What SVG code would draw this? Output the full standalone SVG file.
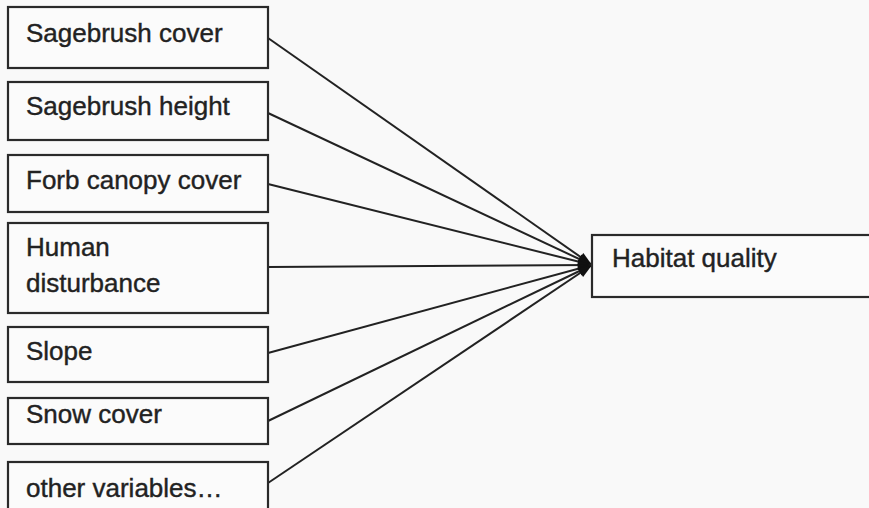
<svg xmlns="http://www.w3.org/2000/svg" width="869" height="508" viewBox="0 0 869 508">
<style>
.box{fill:#fbfbfb;stroke:#2a2a2a;stroke-width:2.2}
.lbl{font-family:"Liberation Sans",Arial,sans-serif;font-size:26px;fill:#222;stroke:#222;stroke-width:0.4}
.con{stroke:#222;stroke-width:2;fill:none;marker-end:url(#ah)}
</style>
<defs>
<marker id="ah" viewBox="0 0 10 10" refX="10" refY="5" markerWidth="8" markerHeight="7" markerUnits="strokeWidth" orient="auto">
<path d="M0,1.5 L10,5 L0,8.5 z" fill="#111"/>
</marker>
</defs>
<rect width="869" height="508" fill="#f9f9f9"/>
<g id="connectors">
<line class="con" x1="268" y1="38" x2="592" y2="265"/>
<line class="con" x1="268" y1="113" x2="592" y2="265"/>
<line class="con" x1="268" y1="184" x2="592" y2="265"/>
<line class="con" x1="268" y1="267" x2="592" y2="265"/>
<line class="con" x1="268" y1="353" x2="592" y2="265"/>
<line class="con" x1="268" y1="421" x2="592" y2="265"/>
<line class="con" x1="268" y1="483" x2="592" y2="265"/>
</g>
<g id="n1"><rect class="box" x="8" y="7" width="260" height="61"/><text class="lbl" x="26" y="42">Sagebrush cover</text></g>
<g id="n2"><rect class="box" x="8" y="82" width="260" height="58"/><text class="lbl" x="26" y="115">Sagebrush height</text></g>
<g id="n3"><rect class="box" x="8" y="155" width="260" height="57"/><text class="lbl" x="26" y="189">Forb canopy cover</text></g>
<g id="n4"><rect class="box" x="8" y="223" width="260" height="90"/><text class="lbl" x="26" y="256">Human</text><text class="lbl" x="26" y="292">disturbance</text></g>
<g id="n5"><rect class="box" x="8" y="327" width="260" height="55"/><text class="lbl" x="26" y="360">Slope</text></g>
<g id="n6"><rect class="box" x="8" y="398" width="260" height="46"/><text class="lbl" x="26" y="423">Snow cover</text></g>
<g id="n7"><rect class="box" x="8" y="462" width="260" height="60"/><text class="lbl" x="26" y="497">other variables…</text></g>
<g id="n8"><rect class="box" x="592" y="235" width="290" height="62"/><text class="lbl" x="612" y="267">Habitat quality</text></g>
</svg>
